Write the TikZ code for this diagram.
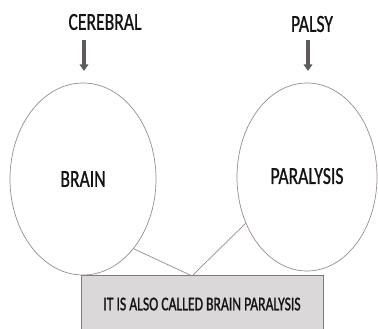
\documentclass[tikz,border=0pt]{standalone}
\usepackage{fontspec}
\setmainfont{Carlito}
\newfontfamily\lblfont[FakeStretch=0.72,FakeBold=0.8]{Carlito}
\newfontfamily\notefont[FakeStretch=0.7,FakeBold=1.0]{Carlito}
\usetikzlibrary{shapes.geometric,arrows.meta}
\definecolor{inkc}{HTML}{141212}
\definecolor{edgec}{HTML}{9A8C8C}
\definecolor{boxedge}{HTML}{857878}
\definecolor{arrowc}{HTML}{605A5A}
\definecolor{boxfill}{HTML}{DAD8D8}
\tikzset{
  lbl/.style={font=\lblfont\fontsize{24.5}{24.5}\selectfont, text=inkc, inner sep=0pt},
  oval/.style={ellipse, draw=edgec, line width=0.7pt, fill=white, inner sep=0pt,
    font=\lblfont\fontsize{24.5}{24.5}\selectfont, text=inkc},
  downarrow/.style={draw=arrowc, line width=3.2pt, -{Triangle[width=8.5pt,length=6.5pt]}},
  link/.style={draw=edgec, line width=0.7pt},
  notebox/.style={rectangle, draw=boxedge, line width=0.9pt, fill=boxfill, inner sep=0pt,
    font=\notefont\fontsize{19.5}{19.5}\selectfont, text=inkc}
}
\begin{document}
\begin{tikzpicture}[x=1pt,y=-1pt]
\useasboundingbox (0,0) rectangle (378,329);
\clip (0,0) rectangle (378,329);
\fill[white] (0,0) rectangle (378,329);
% texts
\node[lbl] (cer) at (105,22) {CEREBRAL};
\node[lbl] (pal) at (312,24) {PALSY};
% arrow end points
\coordinate (a1s) at (84,40);
\coordinate (a1e) at (84,71);
\coordinate (a2s) at (308,40);
\coordinate (a2e) at (308,71);
\draw[downarrow] (a1s) -- (a1e);
\draw[downarrow] (a2s) -- (a2e);
% box
\node[notebox, minimum width=242pt, minimum height=60pt, text depth=0pt] (box) at (202,305) {\raisebox{2pt}{IT IS ALSO CALLED BRAIN PARALYSIS}};
% ellipses
\node[oval, minimum width=146pt, minimum height=192pt] (brain) at (83,179) {BRAIN};
\node[oval, minimum width=140pt, minimum height=188pt] (para) at (307,177) {\raisebox{2pt}{PARALYSIS}};
% connectors
\coordinate (m1) at (190,275);
\coordinate (m2) at (193,275);
\draw[link] (brain.-54) -- (m1);
\draw[link] (para.217) -- (m2);
\end{tikzpicture}
\end{document}
